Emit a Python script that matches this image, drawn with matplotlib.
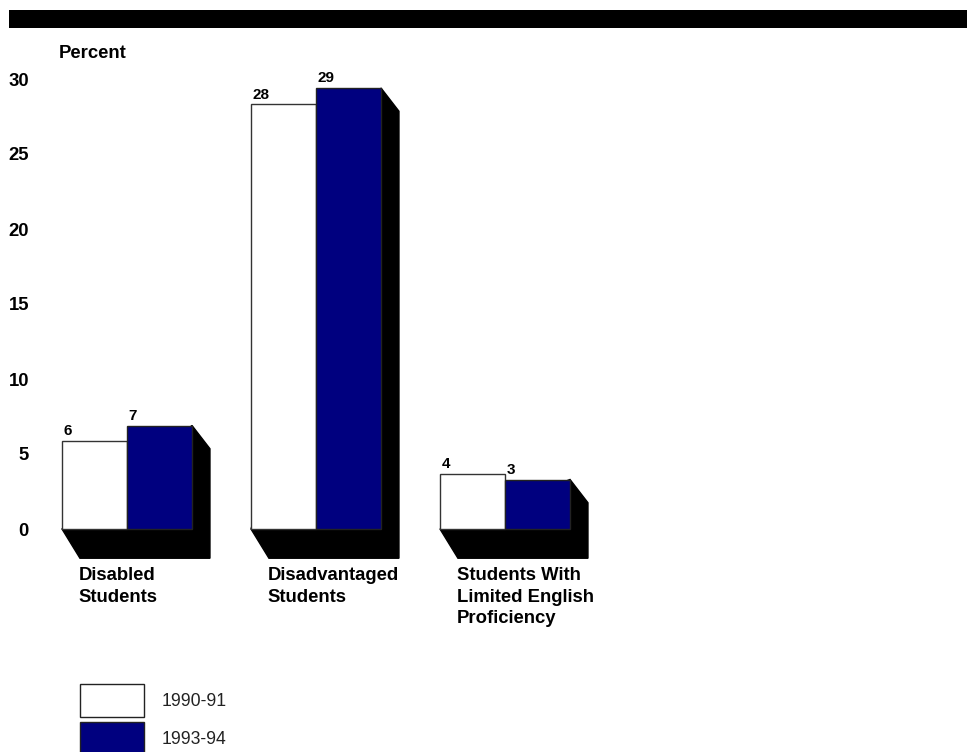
import matplotlib.pyplot as plt
from matplotlib.patches import Polygon, Rectangle

plt.rcParams['font.family'] = ['Liberation Sans', 'DejaVu Sans']

# data
categories = ["Disabled\nStudents", "Disadvantaged\nStudents",
              "Students With\nLimited English\nProficiency"]
series = ["1990-91", "1993-94"]
values_9091 = [5.9, 28.3, 3.7]
values_9394 = [6.9, 29.4, 3.3]
labels_9091 = ["6", "28", "4"]
labels_9394 = ["7", "29", "3"]
yticks = [0, 5, 10, 15, 20, 25, 30]

colors = ["white", "#00007f"]
W, H = 967, 752

fig = plt.figure(figsize=(W / 100, H / 100), dpi=100)
ax = fig.add_axes([40 / W, 1 - 640 / H, (W - 40) / W, 580 / H])
ax.set_xlim((40 - 127) / 189, (W - 127) / 189)
ax.set_ylim((529 - 640) / 15, (529 - 60) / 15)

w = 0.344
dx, dyb, dyt = 0.095, 1.95, 1.55
for i in range(len(categories)):
    x0, x1 = i - w, i + w
    h2 = values_9394[i]
    shadow = Polygon([(x0, 0), (x0 + dx, -dyb), (x1 + dx, -dyb),
                      (x1 + dx, h2 - dyt), (x1, h2)],
                     closed=True, facecolor="black", edgecolor="black", zorder=1)
    ax.add_patch(shadow)
    ax.text(x0 + 0.088, -2.55, categories[i], ha="left", va="top",
            fontsize=13.3, fontweight="bold", linespacing=1.33)

xs = range(len(categories))
b1 = ax.bar([i - w / 2 for i in xs], values_9091, width=w, color=colors[0],
            edgecolor="#333333", linewidth=1, zorder=2)
b2 = ax.bar([i + w / 2 for i in xs], values_9394, width=w, color=colors[1],
            edgecolor="#222222", linewidth=1, zorder=2)

for bars, labs in ((b1, labels_9091), (b2, labels_9394)):
    for bar, lab in zip(bars, labs):
        ax.annotate(lab, (bar.get_x(), bar.get_height()), xytext=(1, 2),
                    textcoords="offset points", ha="left", va="bottom",
                    fontsize=11, fontweight="bold")

ax.set_yticks(yticks)
ax.set_yticklabels([str(t) for t in yticks], fontsize=13.3, fontweight="bold")
ax.tick_params(axis="y", length=0, pad=8)
for lab in ax.get_yticklabels():
    lab.set_y(lab.get_position()[1])
ax.set_xticks([])
for s in ax.spines.values():
    s.set_visible(False)

fig.text(59 / W, 1 - 53 / H, "Percent", fontsize=13.3, fontweight="bold",
         ha="left", va="center")

# black band at the top
fig.patches.append(Rectangle((9 / W, 1 - 28 / H), 1, 18 / H,
                             transform=fig.transFigure, facecolor="black",
                             edgecolor="none"))

# legend
for k, name in enumerate(series):
    top = 684 + 38 * k
    fig.patches.append(Rectangle((80 / W, 1 - (top + 33) / H), 64 / W, 33 / H,
                                 transform=fig.transFigure, facecolor=colors[k],
                                 edgecolor="#222222", linewidth=1))
    fig.text(162 / W, 1 - (top + 18) / H, name, fontsize=12.7,
             ha="left", va="center", color="#222222")

fig.savefig("out.png", dpi=100)
